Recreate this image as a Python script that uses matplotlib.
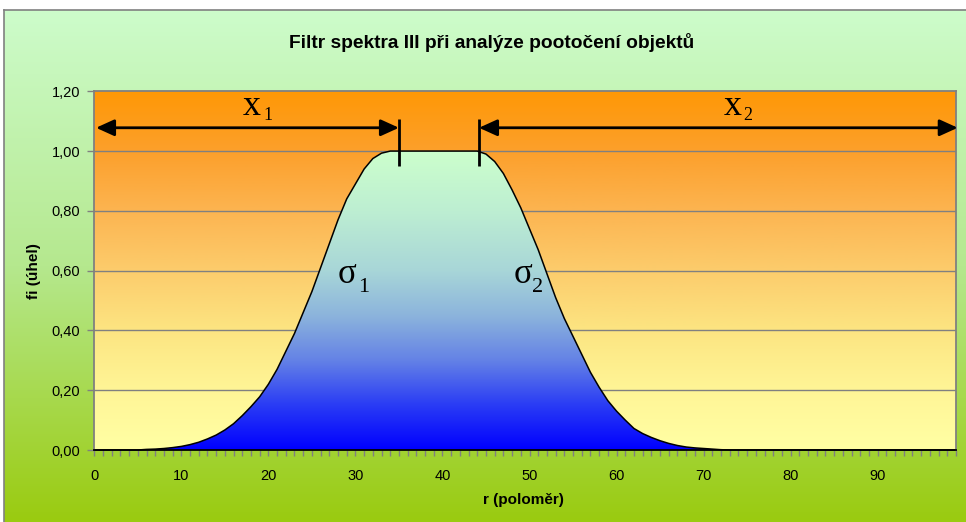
import matplotlib
matplotlib.use('Agg')
import matplotlib.pyplot as plt
import numpy as np
from matplotlib.colors import LinearSegmentedColormap
from matplotlib.ticker import MultipleLocator, FuncFormatter

# r (polomer) 0..99, fi (uhel) per radius
r = list(range(100))
fi = ([0.0] * 6 +
      [0.002, 0.003, 0.005, 0.008, 0.012, 0.018, 0.026, 0.037, 0.050, 0.067,
       0.088, 0.115, 0.145, 0.178, 0.22, 0.27, 0.33, 0.39, 0.46, 0.53,
       0.61, 0.69, 0.77, 0.84, 0.89, 0.94, 0.975, 0.993] +
      [1.0] * 11 +
      [0.99, 0.965, 0.925, 0.87, 0.81, 0.74, 0.67, 0.59, 0.51, 0.44,
       0.38, 0.32, 0.26, 0.21, 0.165, 0.13, 0.10, 0.072, 0.055, 0.042,
       0.031, 0.022, 0.015, 0.010, 0.007, 0.005, 0.003, 0.001] +
      [0.0] * 27)

title = 'Filtr spektra III při analýze pootočení objektů'
xlabel = 'r (poloměr)'
ylabel = 'fi (úhel)'
yticks = [0.0, 0.2, 0.4, 0.6, 0.8, 1.0, 1.2]
xticks = list(range(0, 100, 10))

# edges of the plateau marked by the arrows
x1_end = 35.0
x2_start = 44.2

W, H = 966, 522
fig = plt.figure(figsize=(W / 100, H / 100), dpi=100)
fig.patch.set_facecolor('white')

# outer chart area, light green to yellow-green
bg = fig.add_axes([4 / W, 0, 1 - 4 / W, 1 - 10 / H])
bg_cmap = LinearSegmentedColormap.from_list('bg', ['#cdfccb', '#b5e88e', '#9acb10'])
bg.imshow(np.linspace(0, 1, 256).reshape(-1, 1), cmap=bg_cmap, aspect='auto',
          extent=[0, 1, 0, 1])
bg.set_xticks([])
bg.set_yticks([])
for side in ('bottom', 'right'):
    bg.spines[side].set_visible(False)
for side in ('top', 'left'):
    bg.spines[side].set_color('#808080')
    bg.spines[side].set_linewidth(1.2)

ax = fig.add_axes([94.3 / W, (H - 450) / H, (956 - 94.3) / W, (450 - 91.3) / H])
ax.set_xlim(0, 99)
ax.set_ylim(0, 1.2)

# plot area gradient, orange at top to pale yellow at bottom
plot_cmap = LinearSegmentedColormap.from_list(
    'plot', [(0.0, '#ffffa4'), (0.17, '#fff596'), (0.33, '#fce582'),
             (0.5, '#fccc6c'), (0.67, '#fcb450'), (0.83, '#fca02c'), (1.0, '#ff9806')])
ax.imshow(np.linspace(0, 1, 256).reshape(-1, 1), cmap=plot_cmap, origin='lower',
          aspect='auto', extent=[0, 99, 0, 1.2], zorder=0)

for v in yticks[1:-1]:
    ax.axhline(v, color='#808080', lw=1.0, zorder=1)

# area under curve with blue gradient
fill_cmap = LinearSegmentedColormap.from_list(
    'fill', [(0.0, '#0000ff'), (0.15, '#2a3cf5'), (0.3, '#6482e6'),
             (0.45, '#8cb4dc'), (0.6, '#a8d6d8'), (0.8, '#bdeed2'), (1.0, '#ccffcc')])
poly = ax.fill_between(r, fi, 0, color='none', lw=0, zorder=2)
grad = ax.imshow(np.linspace(0, 1, 256).reshape(-1, 1), cmap=fill_cmap, origin='lower',
                 aspect='auto', extent=[0, 99, 0, max(fi)], zorder=2)
grad.set_clip_path(poly.get_paths()[0], transform=ax.transData)
ax.plot(r, fi, color='black', lw=1.1, zorder=3, clip_on=False)

ax.set_xlim(0, 99)
ax.set_ylim(0, 1.2)

# axes
for side in ('left', 'right', 'top'):
    ax.spines[side].set_color('#808080')
    ax.spines[side].set_linewidth(1.3)
ax.spines['bottom'].set_color('black')
ax.spines['bottom'].set_linewidth(1.3)
for s in ax.spines.values():
    s.set_zorder(5)

ax.set_yticks(yticks)
ax.yaxis.set_major_formatter(FuncFormatter(lambda v, p: f'{v:.2f}'.replace('.', ',')))
ax.xaxis.set_major_locator(MultipleLocator(10))
ax.xaxis.set_minor_locator(MultipleLocator(1))
ax.tick_params(axis='y', length=5, width=1, color='#808080', pad=5,
               labelsize=10.5, labelcolor='black')
ax.tick_params(axis='x', which='both', length=4, width=1, color='#808080', pad=10,
               labelsize=10.5)
ax.set_xticks(xticks)
for lab in ax.get_xticklabels() + ax.get_yticklabels():
    lab.set_family('Liberation Sans')

fig.text(492 / W, 1 - 42 / H, title, ha='center', va='center', fontsize=13.8,
         fontweight='bold', family='Liberation Sans')
fig.text(523 / W, 1 - 500 / H, xlabel, ha='center', va='center', fontsize=11,
         fontweight='bold', family='Liberation Sans')
fig.text(34 / W, 1 - 271 / H, ylabel, ha='center', va='center', fontsize=11,
         fontweight='bold', family='Liberation Sans', rotation=90)

# x1 / x2 dimension arrows
arrow = dict(arrowstyle='<|-|>,head_length=0.55,head_width=0.25', color='black',
             lw=2, shrinkA=0, shrinkB=0, mutation_scale=20)
ax.annotate('', xy=(0.2, 1.078), xytext=(x1_end, 1.078), arrowprops=arrow,
            annotation_clip=False, zorder=6)
ax.annotate('', xy=(x2_start, 1.078), xytext=(99.2, 1.078), arrowprops=arrow,
            annotation_clip=False, zorder=6)
for xv in (x1_end, x2_start):
    ax.plot([xv, xv], [0.95, 1.107], color='black', lw=2, zorder=6,
            solid_capstyle='butt')

serif = 'Liberation Serif'
ax.text(17.1, 1.12, 'x', fontsize=26, family=serif, zorder=6)
ax.text(19.4, 1.104, '1', fontsize=13, family=serif, zorder=6)
ax.text(72.3, 1.12, 'x', fontsize=26, family=serif, zorder=6)
ax.text(74.6, 1.104, '2', fontsize=13, family=serif, zorder=6)
ax.text(28.0, 0.558, 'σ', fontsize=25, family=serif, zorder=6)
ax.text(30.3, 0.528, '1', fontsize=16, family=serif, zorder=6)
ax.text(48.2, 0.558, 'σ', fontsize=25, family=serif, zorder=6)
ax.text(50.3, 0.528, '2', fontsize=16, family=serif, zorder=6)

fig.savefig('out.png', dpi=100)
